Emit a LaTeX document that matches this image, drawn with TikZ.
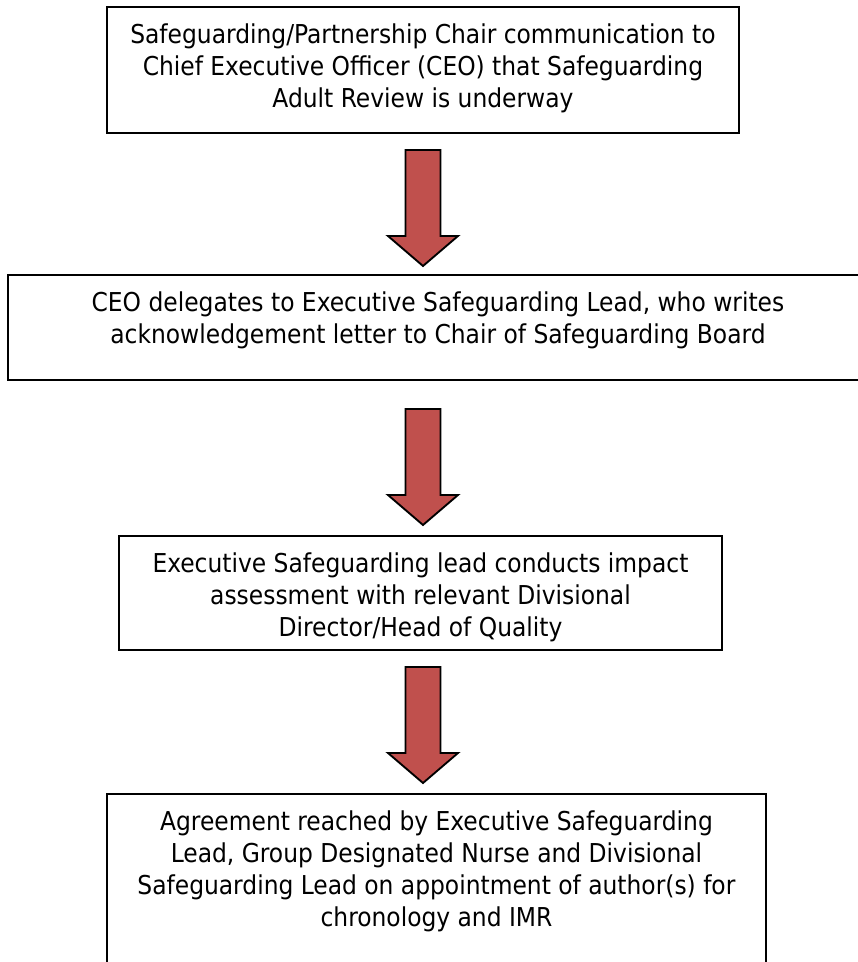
\documentclass[tikz,border=0pt]{standalone}
\usepackage{fontspec}
\setmainfont{DejaVu Sans Condensed}
\usetikzlibrary{positioning,calc}
\definecolor{arrowred}{HTML}{C0504D}
\begin{document}
\begin{tikzpicture}[x=0.75pt, y=-0.75pt, line join=miter,
		font=\fontsize{19.5pt}{24pt}\selectfont,
		frame/.style={draw, line width=1.5pt, fill=white, inner sep=0pt},
		boxtext/.style={align=center, inner sep=0pt, anchor=north},
		downarrow/.style={draw=black, line width=1.4pt, fill=arrowred}]
		\useasboundingbox (0,0) rectangle (857,962);
		\coordinate (arrx) at (423,0);
		% boxes
		\node[frame, minimum width=474pt, minimum height=94.5pt] (ceo) at (423,70) {};
		\node[frame, minimum width=645pt, minimum height=78.75pt] (delegate) at (438,327.5) {};
		\node[frame, minimum width=452.25pt, minimum height=85.5pt] (impact) at (420.5,593) {};
		\node[frame, minimum width=494.25pt, minimum height=154.5pt] (agree) at (436.5,897) {};
		% texts
		\node[boxtext, below=12.75pt of ceo.north] (ceotxt) {Safeguarding/Partnership Chair communication to\\ Chief Executive Officer (CEO) that Safeguarding\\ Adult Review is underway};
		\node[boxtext, below=12.75pt of delegate.north] (delegatetxt) {CEO delegates to Executive Safeguarding Lead, who writes\\ acknowledgement letter to Chair of Safeguarding Board};
		\node[boxtext, below=12.75pt of impact.north] (impacttxt) {Executive Safeguarding lead conducts impact\\ assessment with relevant Divisional\\ Director/Head of Quality};
		\node[boxtext, below=12.75pt of agree.north] (agreetxt) {Agreement reached by Executive Safeguarding\\ Lead, Group Designated Nurse and Divisional\\ Safeguarding Lead on appointment of author(s) for\\ chronology and IMR};
		% block arrows
		\foreach \from/\to/\gapa/\gapb in {ceo/delegate/16/8, delegate/impact/28/10, impact/agree/16/10}{
			\coordinate (top) at ($(\from.south -| arrx)+(0,\gapa)$);
			\coordinate (tip) at ($(\to.north -| arrx)+(0,-\gapb)$);
			\draw[downarrow] ($(top)+(-17.5,0)$) -- ($(top)+(17.5,0)$) -- ($(tip)+(17.5,-30)$)
			-- ($(tip)+(35,-30)$) -- (tip) -- ($(tip)+(-35,-30)$) -- ($(tip)+(-17.5,-30)$) -- cycle;
		}
	\end{tikzpicture}
\end{document}
